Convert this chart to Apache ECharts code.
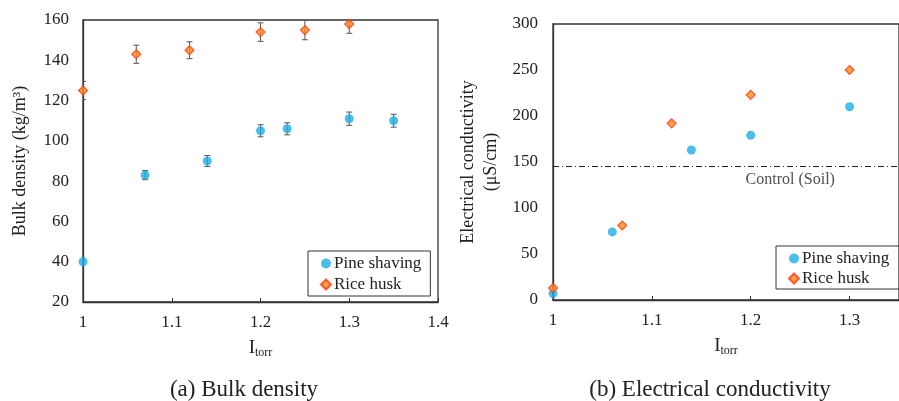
<!DOCTYPE html>
<html>
<head>
<meta charset="utf-8">
<script src="https://cdn.jsdelivr.net/npm/echarts@6/dist/echarts.min.js"></script>
<style>
  html, body { margin: 0; padding: 0; background: #fff; }
  #main { width: 899px; height: 401px; }
</style>
</head>
<body>
<div id="main"></div>
<script>
// (a) Bulk density
var pineX_a = [1, 1.07, 1.14, 1.2, 1.23, 1.3, 1.35];
var pineY_a = [40, 83, 90, 105, 106, 111, 110];
var pineErr_a = [0, 2.3, 2.7, 3, 3, 3.3, 3.2];
var riceX_a = [1, 1.06, 1.12, 1.2, 1.25, 1.3];
var riceY_a = [125, 143, 145, 154, 155, 158];
var riceErr_a = [4.5, 4.5, 4.2, 4.6, 4.8, 4.6];

// (b) Electrical conductivity
var pineX_b = [1, 1.06, 1.14, 1.2, 1.3];
var pineY_b = [7, 74, 163, 179, 210];
var riceX_b = [1, 1.07, 1.12, 1.2, 1.3];
var riceY_b = [13, 81, 192, 223, 250];
var controlSoil = 145;

var FONT = "Liberation Serif";
var BLUE = "#1aaee2";
var ORANGE = "#ff8a1c";
var RED = "#ff3a12";
var AXIS = "#333";

function zip(xs, ys) {
  var out = [];
  for (var i = 0; i < xs.length; i++) out.push([xs[i], ys[i]]);
  return out;
}
function errData(xs, ys, es) {
  var out = [];
  for (var i = 0; i < xs.length; i++) {
    if (es[i] > 0) out.push([xs[i], ys[i] - es[i], ys[i] + es[i]]);
  }
  return out;
}

// 误差线
function renderErr(params, api) {
  var x = api.value(0);
  var lo = api.coord([x, api.value(1)]);
  var hi = api.coord([x, api.value(2)]);
  var w = 3;
  var st = { stroke: "#555", lineWidth: 1 };
  return {
    type: "group",
    children: [
      { type: "line", shape: { x1: lo[0], y1: lo[1], x2: hi[0], y2: hi[1] }, style: st },
      { type: "line", shape: { x1: lo[0] - w, y1: lo[1], x2: lo[0] + w, y2: lo[1] }, style: st },
      { type: "line", shape: { x1: hi[0] - w, y1: hi[1], x2: hi[0] + w, y2: hi[1] }, style: st }
    ]
  };
}

var xName = {
  name: "{a|I}{b|torr}",
  nameLocation: "middle",
  nameGap: 36,
  nameTextStyle: {
    rich: {
      a: { fontFamily: FONT, fontSize: 19, color: "#222" },
      b: { fontFamily: FONT, fontSize: 12, color: "#222", padding: [9, 0, 0, 0] }
    }
  }
};

function xAxisCfg(idx, max) {
  return Object.assign({
    gridIndex: idx,
    type: "value",
    min: 1,
    max: max,
    interval: 0.1,
    axisLine: { show: true, onZero: false, lineStyle: { color: AXIS, width: 1.3 } },
    axisTick: { show: true, inside: true, length: 4, lineStyle: { color: AXIS } },
    splitLine: { show: false },
    axisLabel: {
      fontFamily: FONT, fontSize: 17, color: "#222", margin: 12,
      showMaxLabel: idx === 0,
      formatter: function (v) { return +v.toFixed(2) + ""; }
    }
  }, xName);
}

var legendData = [{ name: "Pine shaving", icon: "circle" }, { name: "Rice husk", icon: "diamond" }];

var chart = echarts.init(document.getElementById("main"));
var option = {
  backgroundColor: "#fff",
  animation: false,
  title: [
    { text: "(a) Bulk density", left: 239, top: 373, textAlign: "center",
      textStyle: { fontFamily: FONT, fontSize: 23, fontWeight: "normal", color: "#222" } },
    { text: "(b) Electrical conductivity", left: 705, top: 373, textAlign: "center",
      textStyle: { fontFamily: FONT, fontSize: 23, fontWeight: "normal", color: "#222" } }
  ],
  grid: [
    { left: 83, right: 461, top: 20, bottom: 99, show: true, borderColor: AXIS, borderWidth: 1.3 },
    { left: 553, right: -12, top: 24, bottom: 101, show: true, borderColor: AXIS, borderWidth: 1.3 }
  ],
  legend: [
    {
      left: 308, top: 251, orient: "vertical", itemGap: 4, itemWidth: 10, itemHeight: 10,
      padding: [4, 9, 3, 12], borderColor: AXIS, borderWidth: 1,
      textStyle: { fontFamily: FONT, fontSize: 17, color: "#222", padding: [0, 0, 0, -2] },
      data: legendData
    },
    {
      left: 776, top: 246, orient: "vertical", itemGap: 3, itemWidth: 10, itemHeight: 10,
      padding: [4, 40, 2, 12], borderColor: AXIS, borderWidth: 1,
      textStyle: { fontFamily: FONT, fontSize: 17, color: "#222", padding: [0, 0, 0, -2] },
      data: legendData
    }
  ],
  xAxis: [xAxisCfg(0, 1.4), xAxisCfg(1, 1.35)],
  yAxis: [
    {
      gridIndex: 0, type: "value", min: 20, max: 160, interval: 20,
      name: "Bulk density (kg/m\u00b3)", nameLocation: "middle", nameGap: 54,
      nameTextStyle: { fontFamily: FONT, fontSize: 18, color: "#222" },
      axisLine: { show: true, lineStyle: { color: AXIS, width: 1.3 } },
      axisTick: { show: false },
      splitLine: { show: false },
      axisLabel: { fontFamily: FONT, fontSize: 17, color: "#222", margin: 14 }
    },
    {
      gridIndex: 1, type: "value", min: 0, max: 300, interval: 50,
      name: "Electrical conductivity\n(\u03bcS/cm)", nameLocation: "middle", nameGap: 50,
      nameTextStyle: { fontFamily: FONT, fontSize: 18, color: "#222", lineHeight: 23 },
      axisLine: { show: true, lineStyle: { color: AXIS, width: 1.3 } },
      axisTick: { show: false },
      splitLine: { show: false },
      axisLabel: { fontFamily: FONT, fontSize: 17, color: "#222", margin: 15 }
    }
  ],
  series: [
    {
      type: "custom", name: "errPine", xAxisIndex: 0, yAxisIndex: 0, clip: true,
      renderItem: renderErr, data: errData(pineX_a, pineY_a, pineErr_a), z: 1
    },
    {
      type: "custom", name: "errRice", xAxisIndex: 0, yAxisIndex: 0, clip: true,
      renderItem: renderErr, data: errData(riceX_a, riceY_a, riceErr_a), z: 1
    },
    {
      type: "scatter", name: "Pine shaving", xAxisIndex: 0, yAxisIndex: 0, clip: false,
      symbol: "circle", symbolSize: 9, itemStyle: { color: BLUE },
      data: zip(pineX_a, pineY_a), z: 3
    },
    {
      type: "scatter", name: "Rice husk", xAxisIndex: 0, yAxisIndex: 0, clip: false,
      symbol: "diamond", symbolSize: 9,
      itemStyle: { color: ORANGE, borderColor: RED, borderWidth: 1.2 },
      data: zip(riceX_a, riceY_a), z: 3
    },
    {
      type: "scatter", name: "Pine shaving", xAxisIndex: 1, yAxisIndex: 1, clip: false,
      symbol: "circle", symbolSize: 9, itemStyle: { color: BLUE },
      data: zip(pineX_b, pineY_b), z: 3
    },
    {
      type: "scatter", name: "Rice husk", xAxisIndex: 1, yAxisIndex: 1, clip: false,
      symbol: "diamond", symbolSize: 9,
      itemStyle: { color: ORANGE, borderColor: RED, borderWidth: 1.2 },
      data: zip(riceX_b, riceY_b), z: 4,
      markLine: {
        silent: true, symbol: "none",
        lineStyle: { color: "#222", width: 1, type: [6, 3, 1, 3] },
        label: { show: false },
        data: [{ yAxis: controlSoil }]
      }
    },
    {
      // Control (Soil) 文字
      type: "scatter", name: "controlLabel", xAxisIndex: 1, yAxisIndex: 1,
      symbolSize: 0, silent: true,
      data: [[1.24, controlSoil]],
      label: {
        show: true, position: "bottom", distance: 5, formatter: "Control (Soil)",
        fontFamily: FONT, fontSize: 16, color: "#222"
      }
    }
  ]
};
chart.setOption(option);
</script>
</body>
</html>
